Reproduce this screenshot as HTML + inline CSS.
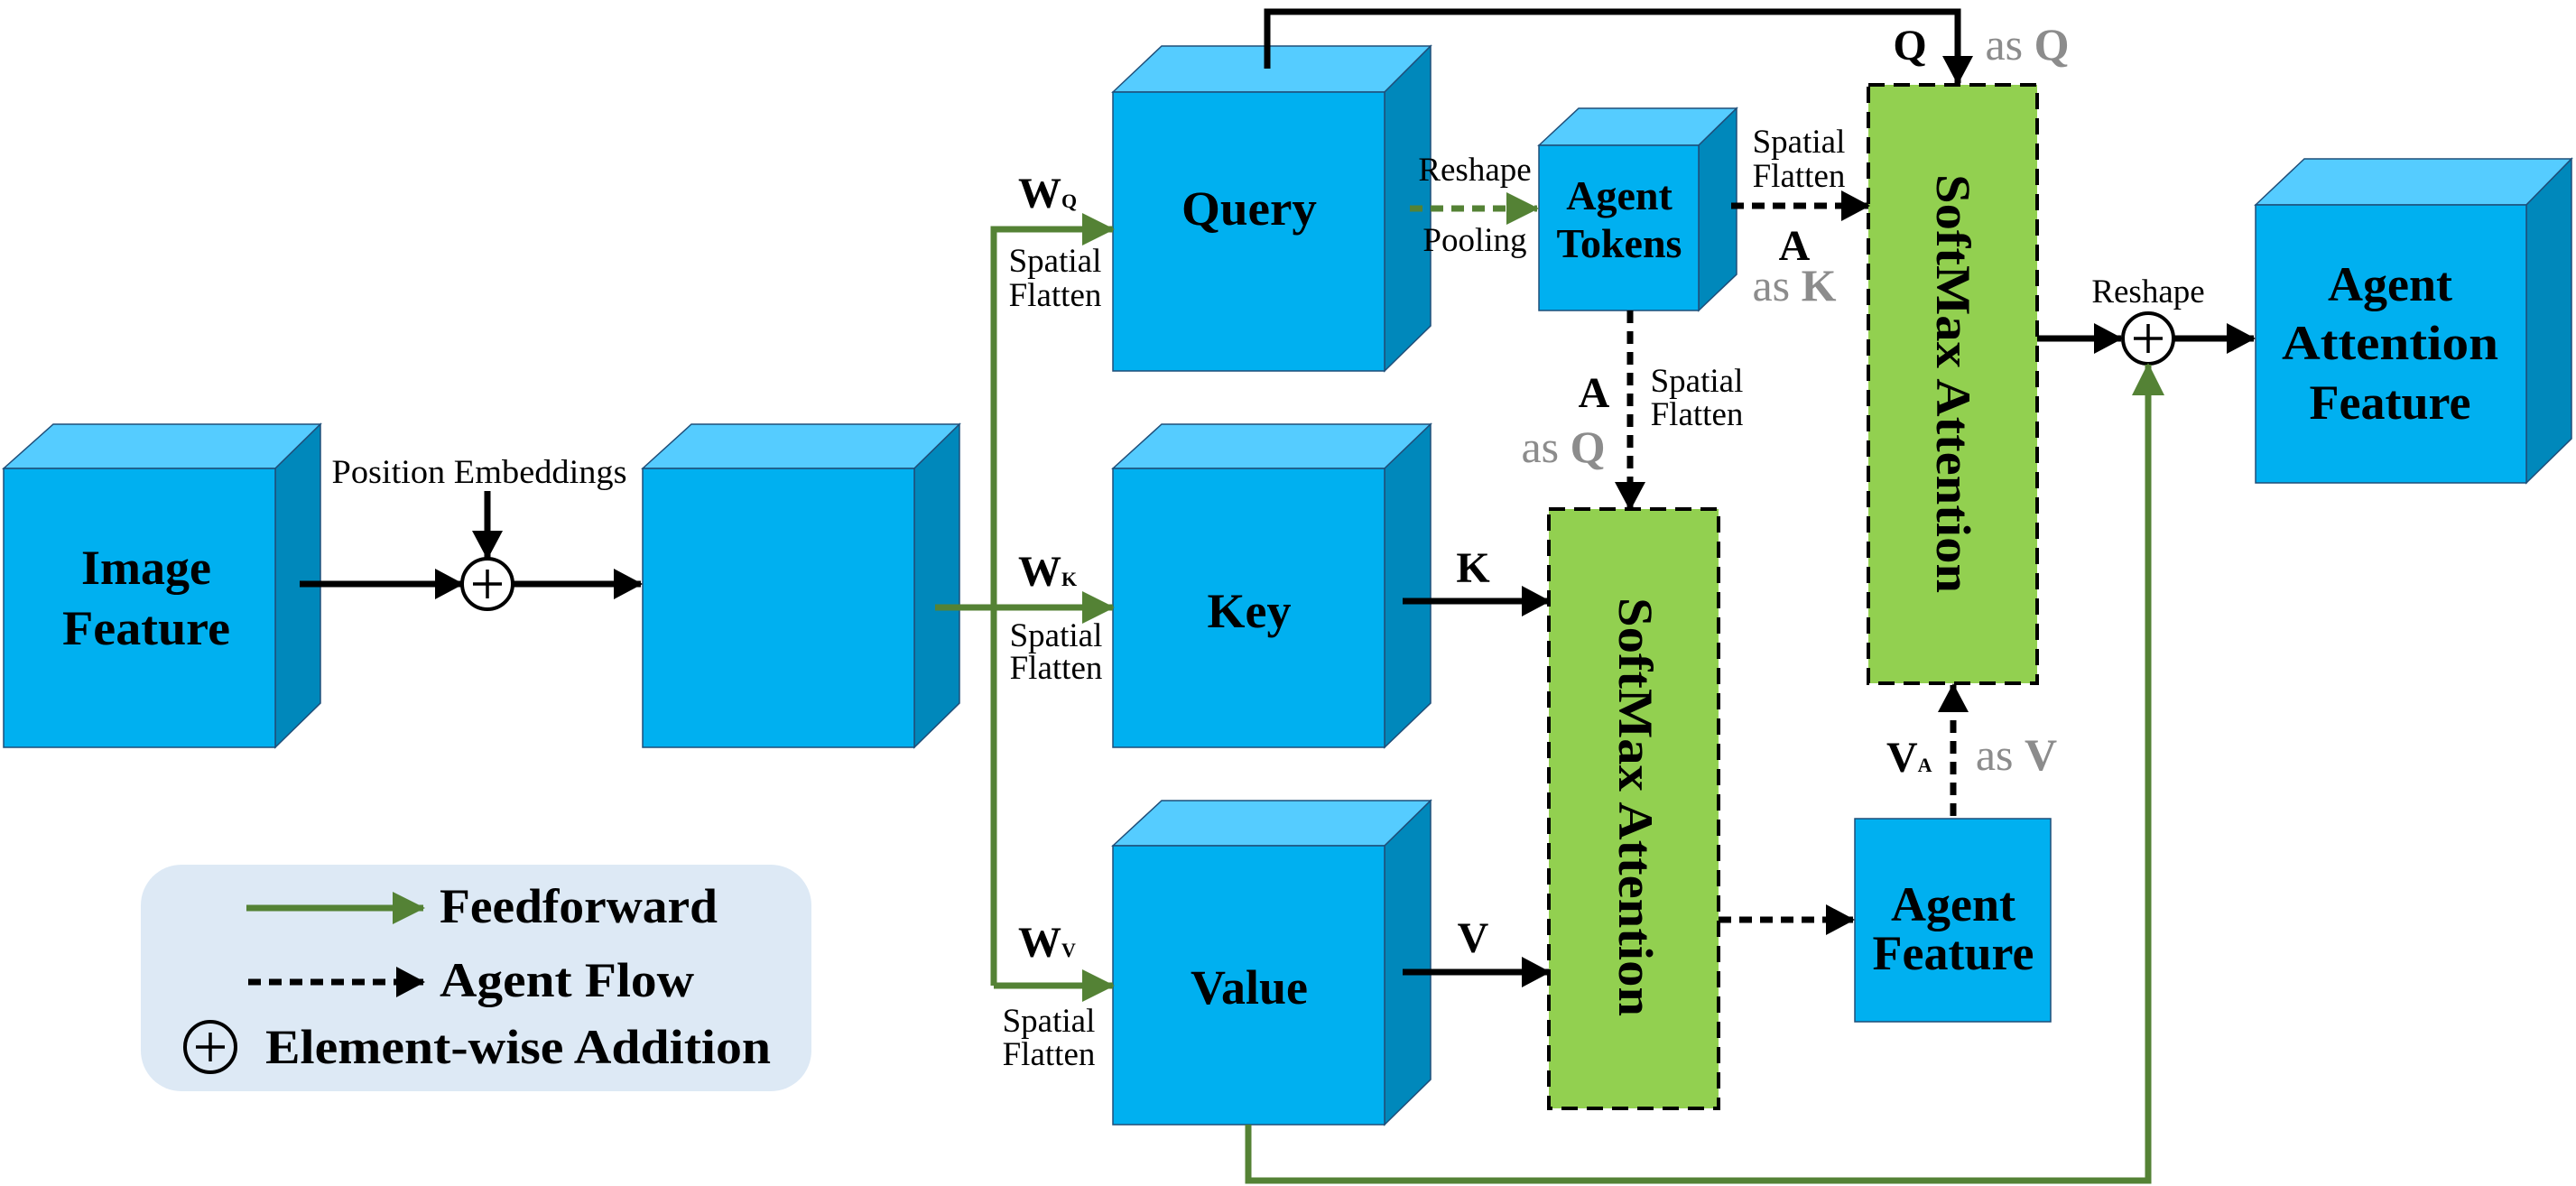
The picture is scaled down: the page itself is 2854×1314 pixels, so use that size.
<!DOCTYPE html>
<html><head><meta charset="utf-8"><style>html,body{margin:0;padding:0;background:#fff;overflow:hidden}svg{display:block}svg,svg text,svg tspan{font-family:"Liberation Serif",serif}</style></head>
<body>
<svg width="2854" height="1314" viewBox="0 0 2854 1314" xmlns="http://www.w3.org/2000/svg">
<defs>
<marker id="ab" markerUnits="userSpaceOnUse" markerWidth="34" markerHeight="34" refX="30" refY="17" orient="auto"><path d="M0,0 L32,17 L0,34 Z" fill="#000"/></marker>
<marker id="ag" markerUnits="userSpaceOnUse" markerWidth="40" markerHeight="36" refX="34" refY="18" orient="auto"><path d="M0,0 L36,18 L0,36 Z" fill="#548235"/></marker>
</defs>
<g stroke="#1f4e79" stroke-width="1.5">
<polygon points="4,519 59,470 355,470 305,519" fill="#55ccff"/>
<polygon points="305,519 355,470 355,779 305,828" fill="#0088bb"/>
<rect x="4" y="519" width="301" height="309" fill="#00b0f0"/>
<polygon points="712,519 766,470 1063,470 1013,519" fill="#55ccff"/>
<polygon points="1013,519 1063,470 1063,779 1013,828" fill="#0088bb"/>
<rect x="712" y="519" width="301" height="309" fill="#00b0f0"/>
<polygon points="1233,102 1287,51 1585,51 1534,102" fill="#55ccff"/>
<polygon points="1534,102 1585,51 1585,361 1534,411" fill="#0088bb"/>
<rect x="1233" y="102" width="301" height="309" fill="#00b0f0"/>
<polygon points="1233,519 1287,470 1585,470 1534,519" fill="#55ccff"/>
<polygon points="1534,519 1585,470 1585,779 1534,828" fill="#0088bb"/>
<rect x="1233" y="519" width="301" height="309" fill="#00b0f0"/>
<polygon points="1233,937 1287,887 1585,887 1534,937" fill="#55ccff"/>
<polygon points="1534,937 1585,887 1585,1196 1534,1246" fill="#0088bb"/>
<rect x="1233" y="937" width="301" height="309" fill="#00b0f0"/>
<polygon points="1705,161 1749,120 1924,120 1882,161" fill="#55ccff"/>
<polygon points="1882,161 1924,120 1924,304 1882,344" fill="#0088bb"/>
<rect x="1705" y="161" width="177" height="183" fill="#00b0f0"/>
<polygon points="2499,227 2553,176 2849,176 2799,227" fill="#55ccff"/>
<polygon points="2799,227 2849,176 2849,486 2799,535" fill="#0088bb"/>
<rect x="2499" y="227" width="300" height="308" fill="#00b0f0"/>
<rect x="2055" y="907" width="217" height="225" fill="#00b0f0"/>
</g>
<rect x="2070" y="94" width="187" height="663" fill="#92d050" stroke="#000" stroke-width="4" stroke-dasharray="18 10"/>
<rect x="1716" y="564" width="188" height="664" fill="#92d050" stroke="#000" stroke-width="4" stroke-dasharray="18 10"/>
<rect x="156" y="958" width="743" height="251" rx="45" fill="#dde9f5"/>
<line x1="273" y1="1006" x2="469" y2="1006" stroke="#548235" stroke-width="7" marker-end="url(#ag)"/>
<line x1="275" y1="1088" x2="469" y2="1088" stroke="#000" stroke-width="7" stroke-dasharray="14 9" marker-end="url(#ab)"/>
<circle cx="233" cy="1160" r="28" fill="none" stroke="#000" stroke-width="4"/>
<path d="M233,1144 V1176 M217,1160 H249" stroke="#000" stroke-width="3.5"/>
<g font-weight="bold" font-size="54" fill="#000">
<text x="487" y="1022" textLength="308" lengthAdjust="spacingAndGlyphs">Feedforward</text>
<text x="487" y="1104" textLength="282" lengthAdjust="spacingAndGlyphs">Agent Flow</text>
<text x="294" y="1178" textLength="560" lengthAdjust="spacingAndGlyphs">Element-wise Addition</text>
</g>
<g stroke="#000" stroke-width="7" fill="none">
<line x1="332" y1="647" x2="512" y2="647" marker-end="url(#ab)"/>
<line x1="569" y1="647" x2="710" y2="647" marker-end="url(#ab)"/>
<line x1="540" y1="544" x2="540" y2="618" marker-end="url(#ab)"/>
<polyline points="1404,76 1404,13 2169,13 2169,92" marker-end="url(#ab)"/>
<line x1="1554" y1="666" x2="1716" y2="666" marker-end="url(#ab)"/>
<line x1="1554" y1="1077" x2="1716" y2="1077" marker-end="url(#ab)"/>
<line x1="2257" y1="375" x2="2350" y2="375" marker-end="url(#ab)"/>
<line x1="2409" y1="375" x2="2497" y2="375" marker-end="url(#ab)"/>
</g>
<circle cx="540" cy="647" r="28" fill="#fff" stroke="#000" stroke-width="4"/>
<path d="M540,631 V663 M524,647 H556" stroke="#000" stroke-width="3.5"/>
<circle cx="2380" cy="375" r="28" fill="#fff" stroke="#000" stroke-width="4"/>
<path d="M2380,359 V391 M2364,375 H2396" stroke="#000" stroke-width="3.5"/>
<g stroke="#000" stroke-width="7" fill="none" stroke-dasharray="14 9">
<line x1="1918" y1="228" x2="2070" y2="228" marker-end="url(#ab)"/>
<line x1="1806" y1="344" x2="1806" y2="564" marker-end="url(#ab)"/>
<line x1="1904" y1="1019" x2="2053" y2="1019" marker-end="url(#ab)"/>
<line x1="2164" y1="904" x2="2164" y2="759" marker-end="url(#ab)"/>
</g>
<line x1="1562" y1="231" x2="1703" y2="231" stroke="#548235" stroke-width="7" stroke-dasharray="14 9" marker-end="url(#ag)"/>
<g stroke="#548235" stroke-width="7" fill="none">
<polyline points="1036,673 1101,673"/>
<polyline points="1101,1092 1101,254 1233,254" marker-end="url(#ag)"/>
<line x1="1101" y1="673" x2="1233" y2="673" marker-end="url(#ag)"/>
<line x1="1101" y1="1092" x2="1233" y2="1092" marker-end="url(#ag)"/>
<polyline points="1383,1246 1383,1308 2380,1308 2380,404" marker-end="url(#ag)"/>
</g>
<g font-weight="bold" font-size="54" fill="#000" text-anchor="middle">
<text x="162" y="647">Image</text>
<text x="162" y="714" textLength="186" lengthAdjust="spacingAndGlyphs">Feature</text>
<text x="1384" y="249" textLength="150" lengthAdjust="spacingAndGlyphs">Query</text>
<text x="1384" y="695">Key</text>
<text x="1384" y="1112">Value</text>
<text x="1794" y="232" font-size="46">Agent</text>
<text x="1794" y="285" font-size="46">Tokens</text>
<text x="2648" y="333">Agent</text>
<text x="2648" y="398" textLength="240" lengthAdjust="spacingAndGlyphs">Attention</text>
<text x="2648" y="464">Feature</text>
<text x="2164" y="1020">Agent</text>
<text x="2164" y="1074">Feature</text>
<text transform="translate(2146,425) rotate(90)" font-size="54" textLength="464" lengthAdjust="spacingAndGlyphs">SoftMax Attention</text>
<text transform="translate(1794,894) rotate(90)" font-size="54" textLength="464" lengthAdjust="spacingAndGlyphs">SoftMax Attention</text>
<text x="1632" y="645" font-size="48">K</text>
<text x="1632" y="1055" font-size="48">V</text>
<text x="1988" y="288" font-size="48">A</text>
<text x="1766" y="451" font-size="48">A</text>
<text x="2116" y="66" font-size="48">Q</text>
</g>
<g font-weight="bold" font-size="48" fill="#000">
<text x="1128" y="230">W<tspan font-size="22">Q</tspan></text>
<text x="1128" y="649">W<tspan font-size="22">K</tspan></text>
<text x="1128" y="1060">W<tspan font-size="22">V</tspan></text>
<text x="2090" y="855">V<tspan font-size="22">A</tspan></text>
</g>
<g font-size="50" fill="#8c8c8c" text-anchor="middle">
<text x="1988" y="333">as <tspan font-weight="bold">K</tspan></text>
<text x="1732" y="512">as <tspan font-weight="bold">Q</tspan></text>
<text x="2246" y="66">as <tspan font-weight="bold">Q</tspan></text>
<text x="2234" y="853">as <tspan font-weight="bold">V</tspan></text>
</g>
<g font-size="37" fill="#000" text-anchor="middle">
<text x="531" y="535" textLength="327" lengthAdjust="spacingAndGlyphs">Position Embeddings</text>
<text x="1169" y="301">Spatial</text><text x="1169" y="339">Flatten</text>
<text x="1170" y="716">Spatial</text><text x="1170" y="752">Flatten</text>
<text x="1162" y="1143">Spatial</text><text x="1162" y="1180">Flatten</text>
<text x="1634" y="200">Reshape</text>
<text x="1634" y="278">Pooling</text>
<text x="1993" y="169">Spatial</text><text x="1993" y="207">Flatten</text>
<text x="1880" y="434">Spatial</text><text x="1880" y="471">Flatten</text>
<text x="2380" y="335">Reshape</text>
</g>
</svg>
</body></html>
